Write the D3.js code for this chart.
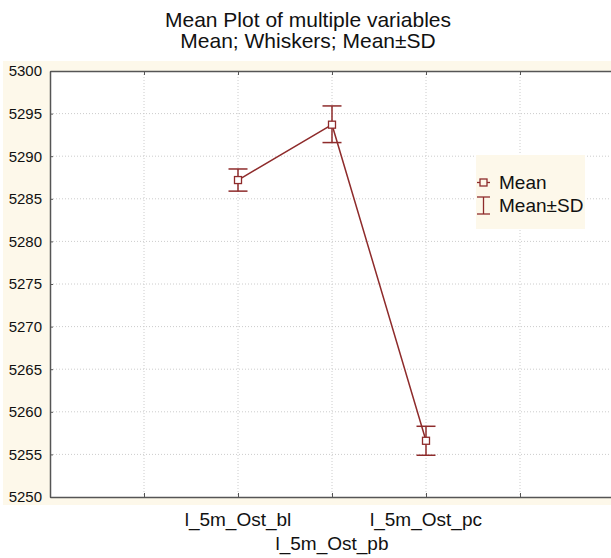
<!DOCTYPE html>
<meta charset="utf-8">
<style>
body { margin: 0; background: #fff; }
text { font-family: "Liberation Sans", Arial, sans-serif; fill: #111; }
</style>
<svg width="611" height="558"></svg>
<script src="https://d3js.org/d3.v7.min.js"></script>
<script>

var categories = ["l_5m_Ost_bl", "l_5m_Ost_pb", "l_5m_Ost_pc"];
var means = [5287.2, 5293.7, 5256.6];
var sdLow = [5285.9, 5291.6, 5254.9];
var sdHigh = [5288.5, 5295.9, 5258.3];
var yTicks = [5250, 5255, 5260, 5265, 5270, 5275, 5280, 5285, 5290, 5295, 5300];

var svg = d3.select("svg"),
    width = +svg.attr("width"),
    height = +svg.attr("height");

var red = "#8e2b2b";
var mLeft = 50, mTop = 71, mBottom = 497, mRight = 614;

// cream frame behind plot
svg.append("rect")
    .attr("x", 3).attr("y", 61)
    .attr("width", width).attr("height", 444)
    .attr("fill", "#fdf8ea");
svg.append("rect")
    .attr("x", mLeft).attr("y", mTop)
    .attr("width", mRight - mLeft).attr("height", mBottom - mTop)
    .attr("fill", "#fff");

var y = d3.scaleLinear().domain([5250, 5300]).range([mBottom, mTop]);
var x = d3.scaleLinear().domain([0, 6]).range([mLeft, mRight]);

// grid
svg.selectAll(".hgrid")
    .data(yTicks.slice(1, -1))
    .enter().append("line")
    .attr("x1", mLeft).attr("x2", mRight)
    .attr("y1", d => y(d)).attr("y2", d => y(d))
    .attr("stroke", "#ccc").attr("stroke-dasharray", "1,2");
svg.selectAll(".vgrid")
    .data(d3.range(1, 6))
    .enter().append("line")
    .attr("y1", mTop).attr("y2", mBottom)
    .attr("x1", d => x(d)).attr("x2", d => x(d))
    .attr("stroke", "#ccc").attr("stroke-dasharray", "1,2");

// axes
svg.append("g")
    .attr("transform", "translate(" + mLeft + ",0)")
    .call(d3.axisLeft(y).tickValues(yTicks).tickFormat(d3.format("d"))
        .tickSizeInner(-3).tickSizeOuter(0).tickPadding(8))
    .call(g => g.select(".domain").attr("stroke", "#555").attr("stroke-width", 1.5))
    .call(g => g.selectAll(".tick line").attr("stroke", "#555"))
    .call(g => g.selectAll("text").attr("font-size", "15px").attr("fill", "#111")
        .attr("font-family", "Liberation Sans, Arial, sans-serif"));

svg.append("g")
    .attr("transform", "translate(0," + mBottom + ")")
    .call(d3.axisBottom(x).tickValues(d3.range(1, 6)).tickSizeInner(-4).tickSizeOuter(0).tickFormat(""))
    .call(g => g.select(".domain").attr("stroke", "#555").attr("stroke-width", 1.5))
    .call(g => g.selectAll(".tick line").attr("stroke", "#555"));

svg.append("g")
    .attr("transform", "translate(0," + mTop + ")")
    .call(d3.axisTop(x).tickValues(d3.range(1, 6)).tickSizeInner(-4).tickSizeOuter(0).tickFormat(""))
    .call(g => g.select(".domain").attr("stroke", "#555").attr("stroke-width", 1.5))
    .call(g => g.selectAll(".tick line").attr("stroke", "#555"));

// category labels, staggered
svg.selectAll(".cat")
    .data(categories)
    .enter().append("text")
    .attr("x", (d, i) => x(i + 2))
    .attr("y", (d, i) => i % 2 ? 550 : 526)
    .attr("text-anchor", "middle")
    .attr("font-size", "19px")
    .text(d => d);

// title
svg.append("text").attr("x", 308).attr("y", 27).attr("text-anchor", "middle")
    .attr("font-size", "21px").text("Mean Plot of multiple variables");
svg.append("text").attr("x", 308).attr("y", 48).attr("text-anchor", "middle")
    .attr("font-size", "21px").text("Mean; Whiskers; Mean\u00b1SD");

// mean line
var line = d3.line().x((d, i) => x(i + 2)).y(d => y(d));
svg.append("path")
    .datum(means)
    .attr("d", line)
    .attr("fill", "none")
    .attr("stroke", red)
    .attr("stroke-width", 1.5);

// whiskers
var w = svg.selectAll(".whisker")
    .data(categories)
    .enter().append("g");
w.append("line")
    .attr("x1", (d, i) => x(i + 2)).attr("x2", (d, i) => x(i + 2))
    .attr("y1", (d, i) => y(sdLow[i])).attr("y2", (d, i) => y(sdHigh[i]))
    .attr("stroke", red).attr("stroke-width", 1.5);
w.append("line")
    .attr("x1", (d, i) => x(i + 2) - 9.5).attr("x2", (d, i) => x(i + 2) + 9.5)
    .attr("y1", (d, i) => y(sdLow[i])).attr("y2", (d, i) => y(sdLow[i]))
    .attr("stroke", red).attr("stroke-width", 1.5);
w.append("line")
    .attr("x1", (d, i) => x(i + 2) - 9.5).attr("x2", (d, i) => x(i + 2) + 9.5)
    .attr("y1", (d, i) => y(sdHigh[i])).attr("y2", (d, i) => y(sdHigh[i]))
    .attr("stroke", red).attr("stroke-width", 1.5);

// mean markers
svg.selectAll(".pt")
    .data(means)
    .enter().append("rect")
    .attr("x", (d, i) => x(i + 2) - 3.5)
    .attr("y", d => y(d) - 3.5)
    .attr("width", 7).attr("height", 7)
    .attr("fill", "#fff")
    .attr("stroke", red).attr("stroke-width", 1.3);

// legend
var lg = svg.append("g").attr("transform", "translate(476,155)");
lg.append("rect").attr("width", 109).attr("height", 74).attr("fill", "#fdf8ea");
lg.append("line").attr("x1", 1).attr("x2", 14).attr("y1", 27.5).attr("y2", 27.5)
    .attr("stroke", red).attr("stroke-width", 1.3);
lg.append("rect").attr("x", 4).attr("y", 24).attr("width", 7).attr("height", 7)
    .attr("fill", "#fdf8ea").attr("stroke", red).attr("stroke-width", 1.3);
lg.append("line").attr("x1", 7.5).attr("x2", 7.5).attr("y1", 42).attr("y2", 59)
    .attr("stroke", red).attr("stroke-width", 1.3);
lg.append("line").attr("x1", 1).attr("x2", 14).attr("y1", 42).attr("y2", 42)
    .attr("stroke", red).attr("stroke-width", 1.3);
lg.append("line").attr("x1", 1).attr("x2", 14).attr("y1", 59).attr("y2", 59)
    .attr("stroke", red).attr("stroke-width", 1.3);
lg.append("text").attr("x", 23).attr("y", 34).attr("font-size", "19px").text("Mean");
lg.append("text").attr("x", 23).attr("y", 57).attr("font-size", "19px").text("Mean\u00b1SD");

</script>
